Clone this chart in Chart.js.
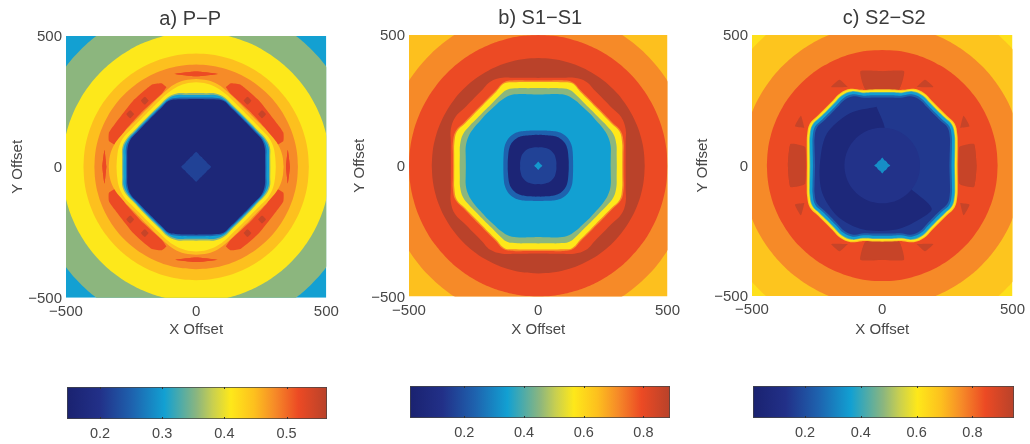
<!DOCTYPE html>
<html><head><meta charset="utf-8">
<script src="https://cdn.jsdelivr.net/npm/chart.js@4"></script>
<style>html,body{margin:0;padding:0;background:#fff;width:1030px;height:444px;overflow:hidden}canvas{position:absolute}</style>
</head><body>
<script>
// ---------- data ----------
const angles = [0,7.5,15,22.5,30,37.5,45,52.5,60,67.5,75,82.5,90];
const square = [[-500,-500],[500,-500],[500,500],[-500,500]];
const offsetTicks = [-500,0,500];

// a) P-P
const ppRange = [0.147,0.565];
const ppTicks = [0.2,0.3,0.4,0.5];
const ppBase = 0.304;
const ppOuterLevels = [0.356,0.410,0.448,0.481];
const ppOuterRadii = [[630],[515],[433],[391]];
const ppPatchLevels = [0.519,0.519,0.519,0.552,0.552];
const ppPatches = [
  [[114,304],[133,319],[172,313],[242,253],[313,163],[335,131],[335,99],[304,82],[274,137],[204,214],[133,278]],
  [[-83,355],[0,364],[83,355],[0,346]],
  [[345,0],[352,64],[360,0],[352,-64]],
  [[182,253],[197,268],[212,253],[197,238]],
  [[238,201],[253,216],[268,201],[253,186]]
];
const ppInnerLevels = [0.448,0.410,0.356,0.304,0.252,0.164,0.218];
const ppInnerRadii = [
  [336,334,326,312,300,292,290,292,300,312,326,334,336],
  [306,306,306,300,288,281,279,281,288,300,312,320,323],
  [285,287,293,287,275,269,267,269,275,287,290,284,282],
  [280,282,288,282,271,265,263,265,271,282,284,277,275],
  [270,272,279,277,267,261,259,261,267,277,273,267,265],
  [265,267,273,273,263,257,255,257,263,273,267,261,259],
  [58,52,47,44,43,41,41,41,43,44,47,52,58]
];

// b) S1-S1
const s1Range = [0.018,0.889];
const s1Ticks = [0.2,0.4,0.6,0.8];
const s1Base = 0.645;
const s1OuterLevels = [0.715,0.793,0.885,0.793];
const s1OuterRadii = [[596],[500],[412],[338,341,350,366,371,361,358,361,371,364,348,339,336]];
const s1InnerLevels = [0.715,0.567,0.453,0.345,0.236,0.044,0.166,0.33];
const s1InnerRadii = [
  [330,333,342,346,331,323,320,323,331,346,338,329,326],
  [325,328,336,341,326,318,315,318,326,341,331,323,320],
  [304,306,313,315,306,298,296,298,306,315,307,299,297],
  [280,283,290,292,288,283,282,283,288,291,284,276,272],
  [135,136,139,144,150,154,156,154,150,144,139,136,135],
  [118,119,121,125,130,134,135,134,130,125,121,119,118],
  [70,71,72,73,75,76,76,76,75,73,72,71,70],
  [16,14,13,12,11,11,11,11,11,12,13,14,16]
];

// c) S2-S2
const s2Range = [0.0136,0.949];
const s2Ticks = [0.2,0.4,0.6,0.8];
const s2Base = 0.62;
const s2OuterLevels = [0.677,0.762,0.846];
const s2OuterRadii = [[670],[540],[443]];
const s2PatchLevels = [0.92,0.92,0.92,0.92];
const s2Patches = [
  [[-83,355],[83,362],[64,292],[-64,292]],
  [[296,70],[352,82],[362,0],[352,-82],[296,-70]],
  [[132,301],[164,329],[196,301]],
  [[299,144],[312,191],[335,150]]
];
const s2InnerLevels = [0.677,0.603,0.46,0.364,0.247,0.15];
const s2InnerRadii = [
  [289,292,300,312,321,313,310,313,321,318,300,294,292],
  [285,288,296,308,317,309,306,309,317,314,296,290,288],
  [279,282,290,302,311,303,300,303,311,308,290,284,282],
  [276,279,287,299,308,300,297,300,308,305,287,281,279],
  [266,269,277,289,298,290,287,290,298,295,277,271,269],
  [258,261,269,281,290,282,279,282,290,287,269,263,261]
];
const s2CrescentLevel = 0.06;
const s2Crescent = [[-22,225],[-124,200],[-214,120],[-240,-4],[-230,-106],[-170,-196],[-73,-245],[55,-245],[145,-205],[190,-165],[110,-90],[0,0],[10,140]];
const s2CoreLevels = [0.135,0.33];
const s2CoreRadii = [[145],[31,27,24,22,22,22,22,22,22,22,24,27,31]];

// ---------- colour map ----------
const mapPos = [0,.125,.25,.375,.5,.56,.63,.72,.80,.89,1];
const mapCol = [[26,34,112],[34,48,136],[30,98,174],[18,160,210],[140,182,126],[200,207,80],[254,232,26],[253,192,30],[246,138,40],[236,74,36],[184,66,42]];
function mapColor(t){
  t=Math.max(0,Math.min(1,t));
  let i=0; while(i<mapPos.length-2 && t>mapPos[i+1]) i++;
  const f=(t-mapPos[i])/(mapPos[i+1]-mapPos[i]);
  const c=mapCol[i].map((a,k)=>Math.round(a+(mapCol[i+1][k]-a)*f));
  return `rgb(${c[0]},${c[1]},${c[2]})`;
}
// ---------- builders ----------
function closedRing(r){
  const q=angles.map((a,i)=>[a,r[i%r.length]]);
  const pts=[];
  for(const [sa,flip] of [[0,false],[180,true],[180,false],[360,true]]){
    const seq=flip?q.slice().reverse():q;
    for(const [a,v] of seq){
      const deg=flip?sa-a:sa+a, rad=deg*Math.PI/180;
      pts.push({x:v*Math.cos(rad),y:v*Math.sin(rad)});
    }
  }
  pts.push(pts[0]);
  return pts;
}
function closedPoly(p){const pts=p.map(([x,y])=>({x,y}));pts.push(pts[0]);return pts;}
function flipPoly(p,sx,sy){return p.map(([x,y])=>[x*sx,y*sy]);}

function panel(range){
  const layers=[];
  const color=v=>mapColor((v-range[0])/(range[1]-range[0]));
  return {
    layers,
    poly(v,p,tension=0){layers.push({level:v,pts:closedPoly(p),color:color(v),tension});return this;},
    rings(ls,rs){ls.forEach((v,i)=>layers.push({level:v,pts:closedRing(rs[i]),color:color(v),tension:0.4}));return this;},
    patches(ls,ps){ls.forEach((v,i)=>{for(const [sx,sy] of [[1,1],[-1,1],[-1,-1],[1,-1]]) this.poly(v,flipPoly(ps[i],sx,sy),0.15);});return this;}
  };
}
const ppLayers=panel(ppRange).poly(ppBase,square).rings(ppOuterLevels,ppOuterRadii).patches(ppPatchLevels,ppPatches).rings(ppInnerLevels,ppInnerRadii).layers;
const s1Layers=panel(s1Range).poly(s1Base,square).rings(s1OuterLevels,s1OuterRadii).rings(s1InnerLevels,s1InnerRadii).layers;
const s2Layers=panel(s2Range).poly(s2Base,square).rings(s2OuterLevels,s2OuterRadii).patches(s2PatchLevels,s2Patches).rings(s2InnerLevels,s2InnerRadii).poly(s2CrescentLevel,s2Crescent,0.3).rings(s2CoreLevels,s2CoreRadii).layers;

// ---------- charts ----------
const FONT='"Liberation Sans", Arial, sans-serif';
const TEXT='#474747';
function mkCanvas(l,t,w,h){const c=document.createElement('canvas');c.width=w;c.height=h;c.style.left=l+'px';c.style.top=t+'px';c.style.width=w+'px';c.style.height=h+'px';document.body.appendChild(c);return c;}
const minusFmt=v=>String(v).replace('-','\u2212');

function drawMap(cfg){
  const c=mkCanvas(cfg.left,0,cfg.width,345);
  const n=cfg.layers.length;
  new Chart(c,{
    type:'scatter',
    data:{datasets:cfg.layers.map((l,i)=>({
      data:l.pts,showLine:true,fill:'shape',backgroundColor:l.color,borderColor:l.color,borderWidth:0,pointRadius:0,tension:l.tension,order:n-i
    }))},
    plugins:[{id:'titleShift',afterLayout(ch){ch.titleBlock.left+=cfg.titleDx;ch.titleBlock.right+=cfg.titleDx;}}],
    options:{
      responsive:false,animation:false,
      layout:{padding:{left:0,right:cfg.padRight,top:0,bottom:0}},
      plugins:{legend:{display:false},tooltip:{enabled:false},
        title:{display:true,text:cfg.title,fullSize:false,color:'#3a3a3a',font:{family:FONT,size:20,weight:'normal',lineHeight:1.2},padding:{top:cfg.titleTop,bottom:cfg.titleBottom}}},
      scales:{
        x:{type:'linear',min:-500,max:500,grid:{display:false,drawTicks:false},border:{display:false},
          afterBuildTicks(s){s.ticks=offsetTicks.map(value=>({value}));},
          afterFit(s){s.height=345-cfg.bottom;},
          ticks:{autoSkip:false,maxRotation:0,padding:5,color:TEXT,font:{family:FONT,size:15},callback:minusFmt},
          title:{display:true,text:'X Offset',color:TEXT,font:{family:FONT,size:15,lineHeight:1.2},padding:{top:0,bottom:cfg.xTitleBottom}}},
        y:{type:'linear',min:-500,max:500,grid:{display:false,drawTicks:false},border:{display:false},
          afterBuildTicks(s){s.ticks=offsetTicks.map(value=>({value}));},
          afterFit(s){s.width=cfg.plotLeft;},
          ticks:{autoSkip:false,padding:4,labelOffset:1,color:TEXT,font:{family:FONT,size:15},callback:minusFmt},
          title:{display:true,text:'Y Offset',color:TEXT,font:{family:FONT,size:15,lineHeight:1.2},padding:{top:cfg.yTitleTop,bottom:0}}}
      }
    }
  });
}
function drawBar(cfg){
  const c=mkCanvas(cfg.left,375,300,69);
  new Chart(c,{
    type:'bar',
    data:{labels:[''],datasets:[{data:[cfg.range],barPercentage:1,categoryPercentage:1,borderSkipped:false,borderWidth:1,borderColor:'#444',
      backgroundColor(ctx){
        const a=ctx.chart.chartArea; if(!a) return '#888';
        const g=ctx.chart.ctx.createLinearGradient(a.left,0,a.right,0);
        mapPos.forEach((p,i)=>g.addColorStop(p,`rgb(${mapCol[i].join(',')})`));
        return g;
      }}]},
    plugins:[{id:'innerTicks',afterDatasetsDraw(ch){
      const s=ch.scales.x,a=ch.chartArea,x=ch.ctx;
      x.save();x.strokeStyle='#333';x.lineWidth=1;x.beginPath();
      for(const t of s.ticks){const px=Math.round(s.getPixelForValue(t.value))+.5;x.moveTo(px,a.top);x.lineTo(px,a.top+2);x.moveTo(px,a.bottom);x.lineTo(px,a.bottom-2);}
      x.stroke();x.restore();
    }}],
    options:{
      indexAxis:'y',responsive:false,animation:false,
      layout:{padding:{left:cfg.plotLeft,right:cfg.padRight,top:cfg.top,bottom:0}},
      plugins:{legend:{display:false},tooltip:{enabled:false}},
      scales:{
        y:{display:false},
        x:{type:'linear',min:cfg.range[0],max:cfg.range[1],grid:{display:false,drawTicks:false},border:{display:false},
          afterBuildTicks(s){s.ticks=cfg.ticks.map(value=>({value}));},
          afterFit(s){s.height=69-cfg.bottom;},
          ticks:{autoSkip:false,maxRotation:0,padding:6,color:TEXT,font:{family:FONT,size:14.5},callback:v=>v.toFixed(1)}}
      }
    }
  });
}
drawMap({left:0,width:345,plotLeft:66,padRight:18.7,bottom:297.7,title:'a) P\u2212P',titleDx:-6,titleTop:7,titleBottom:5,layers:ppLayers,xTitleBottom:6,yTitleTop:9});
drawMap({left:345,width:340,plotLeft:64,padRight:16,bottom:296.5,title:'b) S1\u2212S1',titleDx:2,titleTop:6,titleBottom:5,layers:s1Layers,xTitleBottom:6,yTitleTop:6});
drawMap({left:688,width:342,plotLeft:64,padRight:17.3,bottom:296,title:'c) S2\u2212S2',titleDx:2,titleTop:6,titleBottom:5,layers:s2Layers,xTitleBottom:6,yTitleTop:6});
drawBar({left:50,plotLeft:17,padRight:23,top:12,bottom:44,range:ppRange,ticks:ppTicks});
drawBar({left:395,plotLeft:15,padRight:25,top:11,bottom:43,range:s1Range,ticks:s1Ticks});
drawBar({left:730,plotLeft:23,padRight:16,top:11,bottom:43,range:s2Range,ticks:s2Ticks});
</script>
</body></html>
